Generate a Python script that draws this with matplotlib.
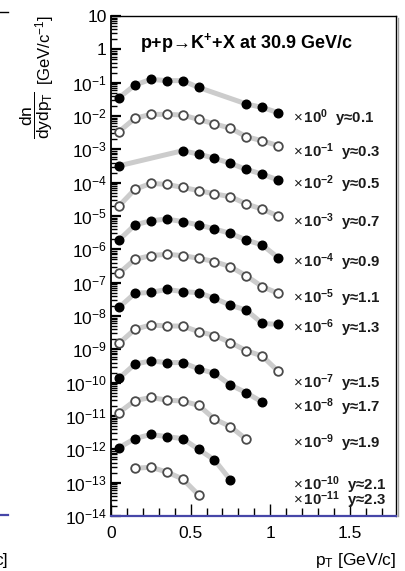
import numpy as np
import matplotlib
matplotlib.use("Agg")
import matplotlib.pyplot as plt
from matplotlib.ticker import FixedLocator, FuncFormatter, NullFormatter
from matplotlib.lines import Line2D

plt.rcParams['font.family'] = ['Liberation Sans', 'DejaVu Sans']
plt.rcParams['mathtext.fontset'] = 'custom'
plt.rcParams['mathtext.rm'] = 'Liberation Sans'
plt.rcParams['mathtext.it'] = 'Liberation Sans:italic'
plt.rcParams['mathtext.bf'] = 'Liberation Sans:bold'

# pT bin centres [GeV/c]
pt = [0.05, 0.15, 0.25, 0.35, 0.45, 0.55, 0.65, 0.75, 0.85, 0.95, 1.05]

# rapidity bins and the scale factor each spectrum is drawn with
rapidity = ['0.1', '0.3', '0.5', '0.7', '0.9', '1.1', '1.3', '1.5', '1.7', '1.9', '2.1', '2.3']
scale_exp = [0, -1, -2, -3, -4, -5, -6, -7, -8, -9, -10, -11]

nan = np.nan
# dn/dydpT before scaling, one list per rapidity bin
y01 = [0.035, 0.085, 0.126, 0.115, 0.115, 0.072, nan, nan, 0.023, 0.018, 0.0126]
y03 = [0.034, 0.085, 0.112, 0.112, 0.107, 0.079, 0.058, 0.043, 0.024, 0.018, 0.0129]
y05 = [0.032, nan, nan, nan, 0.091, 0.072, 0.054, 0.038, 0.025, 0.018, 0.012]
y07 = [0.020, 0.063, 0.095, 0.089, 0.072, 0.058, 0.046, 0.038, 0.023, 0.016, 0.010]
y09 = [0.019, 0.054, 0.072, 0.081, 0.068, 0.054, 0.041, 0.030, 0.019, 0.0135, 0.0056]
y11 = [0.019, 0.050, 0.065, 0.071, 0.065, 0.054, 0.043, 0.030, 0.016, 0.0076, 0.0048]
y13 = [0.018, 0.048, 0.051, 0.063, 0.054, 0.050, 0.034, 0.021, 0.015, 0.006, 0.0056]
y15 = [0.015, 0.040, 0.054, 0.050, 0.050, 0.034, 0.026, 0.016, 0.0091, 0.0063, 0.0022]
y17 = [0.0135, 0.036, 0.045, 0.040, 0.040, 0.026, 0.019, 0.0085, 0.0050, 0.0026, nan]
y19 = [0.0126, 0.029, 0.036, 0.030, 0.028, 0.021, 0.0081, 0.0048, 0.0020, nan, nan]
y21 = [0.0112, 0.021, 0.028, 0.024, 0.021, 0.010, 0.0048, 0.0012, nan, nan, nan]
y23 = [nan, 0.027, 0.029, 0.021, 0.0129, 0.0043, nan, nan, nan, nan, nan]
spectra = [y01, y03, y05, y07, y09, y11, y13, y15, y17, y19, y21, y23]

# vertical placement (log10) of the scale labels on the right
label_logy = [-2.06, -3.08, -4.04, -5.18, -6.38, -7.46, -8.36, -10.01, -10.73, -11.81, -13.08, -13.52]

W, H = 405, 571
fig = plt.figure(figsize=(W / 100, H / 100), dpi=100)
ax = fig.add_axes([111 / W, 1 - 516 / H, 285 / W, 500 / H])

for i, vals in enumerate(spectra):
    x = np.array(pt)
    v = np.array(vals) * 10.0 ** scale_exp[i]
    ok = ~np.isnan(v)
    ax.plot(x[ok], v[ok], color='#cccccc', lw=3.6, solid_capstyle='round', zorder=1)
    if i % 2 == 0:
        ax.plot(x[ok], v[ok], 'o', ms=6.2, mfc='black', mec='black', zorder=3, clip_on=False)
    else:
        ax.plot(x[ok], v[ok], 'o', ms=6.2, mfc='white', mec='#4a4a4a', mew=1.3, zorder=3, clip_on=False)
    ax.text(1.143, 10.0 ** label_logy[i],
            r'$\times\,\mathbf{10^{%d}}$  y≈%s' % (scale_exp[i], rapidity[i]),
            fontsize=10.8, fontweight='bold', va='center', ha='left', color='#1a1a1a')

ax.set_yscale('log')
ax.set_xlim(0, 1.79)
ax.set_ylim(1e-14, 10)

ax.yaxis.set_major_locator(FixedLocator(10.0 ** np.arange(-14, 2)))
minors = [m * 10.0 ** e for e in range(-14, 1) for m in range(2, 10)]
ax.yaxis.set_minor_locator(FixedLocator(minors))
ax.yaxis.set_minor_formatter(NullFormatter())


def yfmt(v, pos):
    e = int(round(np.log10(v)))
    if e == 1:
        return '10'
    if e == 0:
        return '1'
    return r'$10^{%d}$' % e


ax.yaxis.set_major_formatter(FuncFormatter(yfmt))
ax.xaxis.set_major_locator(FixedLocator([0, 0.5, 1, 1.5]))
ax.xaxis.set_minor_locator(FixedLocator(np.arange(0.1, 1.8, 0.1)))
ax.xaxis.set_major_formatter(FuncFormatter(lambda v, p: '%g' % v))

ax.tick_params(axis='both', which='both', direction='in', top=False, right=False,
               color='black', labelsize=12.5)
ax.tick_params(axis='y', which='major', length=7, width=1.6, pad=3)
ax.tick_params(axis='y', which='minor', length=4.5, width=1.0)
ax.tick_params(axis='x', which='major', length=9, width=1.0, pad=7)
ax.tick_params(axis='x', which='minor', length=5.5, width=1.0)

ax.spines['left'].set_linewidth(1.3)
ax.spines['top'].set_linewidth(1.0)
ax.spines['right'].set_linewidth(1.0)
ax.spines['bottom'].set_color('#4646a8')
ax.spines['bottom'].set_linewidth(1.6)

# shadow of the frame on the right
fig.add_artist(Line2D([398 / W, 398 / W], [1 - 18 / H, 1 - 516 / H], color='#a0a0a0', lw=1.0))

fig.text(246 / W, 1 - 43 / H, 'p+p→K$^{\\mathbf{+}}$+X at 30.9 GeV/c',
         fontsize=13, fontweight='bold', ha='center', va='center')

# y axis title, ROOT style at the top of the axis
fig.text(37 / W, 1 - 115 / H, r'$\dfrac{\mathrm{dn}}{\mathrm{dydp_{T}}}$',
         fontsize=12.5, rotation=90, ha='center', va='center')
fig.text(45 / W, 1 - 15 / H, r'[GeV/c$^{-1}$]', fontsize=12, rotation=90,
         ha='center', va='top')

fig.text(396 / W, 1 - 560 / H, r'p$_{\mathrm{T}}$ [GeV/c]', fontsize=12.5,
         ha='right', va='center')

# bits of the neighbouring panel visible at the left edge
fig.add_artist(Line2D([0, 8 / W], [1 - 12 / H, 1 - 12 / H], color='black', lw=1.0))
fig.add_artist(Line2D([0, 8 / W], [1 - 515 / H, 1 - 515 / H], color='#4646a8', lw=1.6))
fig.text(8 / W, 1 - 560 / H, 'c]', fontsize=12.5, ha='right', va='center')

fig.savefig('out.png', dpi=100)
